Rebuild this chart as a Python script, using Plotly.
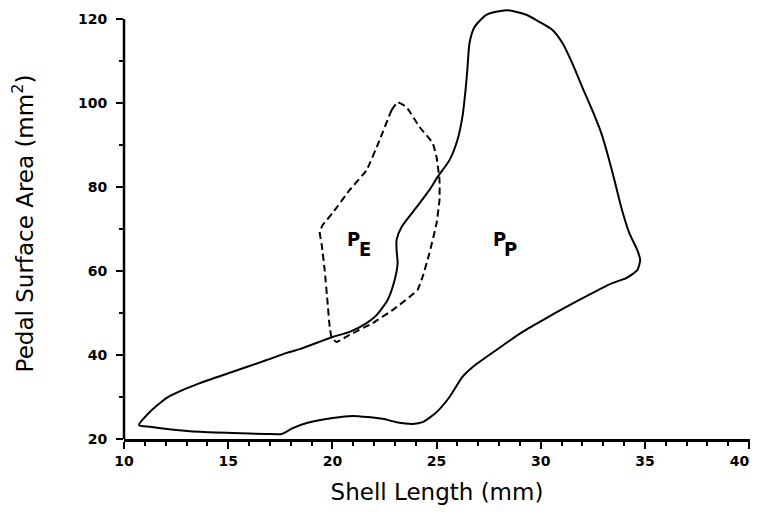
import plotly.graph_objects as go

# P_P envelope (solid), traced from the left tip
pp_x = [10.72, 11.25, 12.05, 12.83, 13.64, 15.22, 16.85, 17.81, 18.43, 20.01, 20.83, 21.64,
        22.12, 22.65, 22.99, 23.13, 23.08, 23.08, 23.32, 24.04, 24.66, 25.05, 25.62, 26.0,
        26.24, 26.39, 26.47, 26.58, 26.82, 27.39, 28.35, 29.31, 29.93, 30.56, 31.04, 31.51,
        31.99, 32.47, 32.90, 33.19, 33.53, 33.86, 34.25, 34.63, 34.77, 34.63, 34.10, 33.43,
        31.85, 30.27, 29.12, 27.87, 26.72, 26.24, 25.62, 25.0, 24.33, 23.85, 23.08, 22.41,
        20.97, 20.01, 18.77, 18.1, 17.57, 16.85, 15.22, 13.64, 12.06, 11.25, 10.72]
pp_y = [23.3, 26.5, 29.8, 31.7, 33.3, 36.0, 38.8, 40.5, 41.4, 44.3, 45.5, 47.6,
        49.5, 53.1, 57.9, 61.9, 65.0, 67.4, 70.5, 75.2, 79.3, 82.4, 86.4, 91.2,
        96.7, 103.1, 107.5, 114.3, 118.1, 121.0, 122.1, 121.0, 119.3, 117.4, 114.3, 109.5,
        103.8, 98.3, 92.9, 88.1, 81.7, 75.2, 69.0, 65.0, 62.6, 60.2, 58.3, 57.1,
        53.1, 48.8, 45.5, 41.2, 37.1, 34.8, 30.0, 26.4, 24.0, 23.6, 24.0, 24.8,
        25.5, 25.0, 23.8, 22.6, 21.2, 21.2, 21.4, 21.7, 22.4, 22.9, 23.3]

# P_E envelope (dashed)
pe_x = [23.13, 22.84, 22.27, 21.64, 20.83, 20.01, 19.54, 19.39, 19.49, 19.63, 19.77, 19.87,
        19.97, 20.21, 20.83, 21.93, 22.89, 23.7, 24.09, 24.33, 24.66, 25.0, 25.14, 25.14,
        25.0, 24.81, 24.18, 23.56, 23.13]
pe_y = [100.2, 98.3, 91.2, 84.0, 79.3, 73.8, 71.0, 69.3, 66.2, 60.2, 52.4, 46.7,
        44.0, 43.1, 44.8, 47.6, 50.7, 53.8, 55.5, 58.6, 64.3, 71.4, 76.9, 81.7,
        87.1, 90.5, 94.3, 99.0, 100.2]

label_main = ["P", "P"]
label_sub = ["E", "P"]
label_x = [21.02, 28.02]
label_y = [67.4, 67.4]

x_ticks = [10, 15, 20, 25, 30, 35, 40]
x_ticktext = ["10", "15", "20", "25", "30", "35", "40\u00a0\u00a0\u00a0\u00a0"]
y_ticks = [20, 40, 60, 80, 100, 120]
x_range = [10, 40.04]
y_range = [20, 122.62]

fig = go.Figure()
fig.add_trace(go.Scatter(x=pp_x, y=pp_y, mode="lines",
                         line=dict(color="black", width=2, shape="spline", smoothing=0.6),
                         showlegend=False, hoverinfo="skip"))
fig.add_trace(go.Scatter(x=pe_x, y=pe_y, mode="lines",
                         line=dict(color="black", width=2, dash="7px,4px", shape="spline", smoothing=0.3),
                         showlegend=False, hoverinfo="skip"))

lab_font = dict(family="DejaVu Sans Condensed, Liberation Sans Narrow, DejaVu Sans", size=20, color="black",
                weight="bold")
for m, s, lx, ly in zip(label_main, label_sub, label_x, label_y):
    fig.add_annotation(x=lx, y=ly, text=m, showarrow=False, font=lab_font,
                       xanchor="center", yanchor="middle", yshift=1)
    fig.add_annotation(x=lx, y=ly, text=s, showarrow=False, font=lab_font,
                       xanchor="center", yanchor="middle", xshift=11, yshift=-9)

# y axis line only from 20 to 120
fig.add_shape(type="line", xref="paper", yref="paper", x0=0, x1=0, y0=0,
              y1=(y_ticks[-1] - y_range[0]) / (y_range[1] - y_range[0]),
              line=dict(color="black", width=2.5))

tick_font = dict(family="DejaVu Sans", size=14, color="black", weight="bold")
title_font = dict(family="DejaVu Sans", size=23, color="black")
fig.update_layout(
    width=751, height=504,
    margin=dict(l=116, r=9, t=0, b=73),
    paper_bgcolor="white", plot_bgcolor="white",
    font=dict(family="DejaVu Sans", color="black"),
    xaxis=dict(range=x_range, tickmode="array", tickvals=x_ticks, ticktext=x_ticktext, ticklabeloverflow="allow",
               ticks="outside", ticklen=7, tickwidth=2, automargin=False,
               tickcolor="black", showline=True, linecolor="black", linewidth=2.5, showgrid=False, zeroline=False,
               tickfont=tick_font,
               minor=dict(dtick=1, ticks="outside", ticklen=4, tickwidth=2, tickcolor="black", showgrid=False),
               title=dict(text="Shell Length (mm)", font=title_font, standoff=17)),
    yaxis=dict(range=y_range, tickmode="array", tickvals=y_ticks, ticklabeloverflow="allow",
               ticks="outside", ticklen=7, tickwidth=2, automargin=False,
               tickcolor="black", showline=False, showgrid=False, zeroline=False,
               tickfont=tick_font, ticklabelstandoff=6,
               minor=dict(dtick=10, ticks="outside", ticklen=4, tickwidth=2, tickcolor="black", showgrid=False),
               title=dict(text="Pedal Surface Area (mm<sup>2</sup>)", font=title_font, standoff=42)),
)

fig.write_html("out.html", default_width="751px", default_height="504px")
